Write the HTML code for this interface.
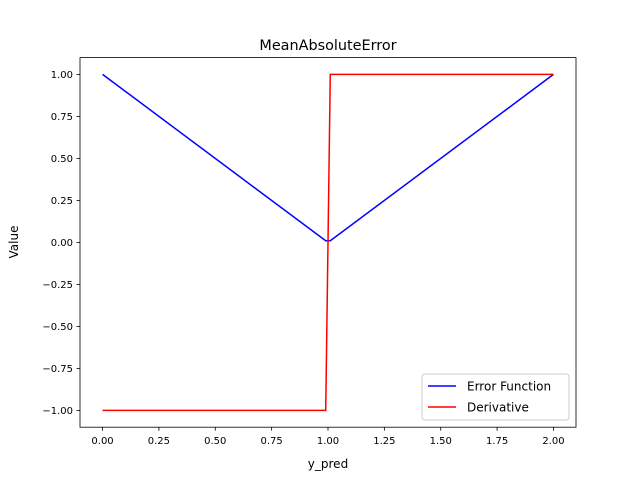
<!DOCTYPE html>
<html><head><meta charset="utf-8"><style>
body{margin:0;background:#fff;}
svg{font-family:"DejaVu Sans","Liberation Sans",sans-serif;}
</style></head><body>
<svg id="chart" width="640" height="480" viewBox="0 0 640 480">
<rect width="640" height="480" fill="#fff"/>
<text x="328" y="50" font-size="14.4" text-anchor="middle">MeanAbsoluteError</text>
<g id="plot"></g>
<rect x="80" y="57.6" width="496" height="369.6" fill="none" stroke="#000" stroke-width="0.8"/>
<text x="328" y="468" font-size="12" text-anchor="middle">y_pred</text>
<text transform="translate(18,242) rotate(-90)" font-size="12" text-anchor="middle">Value</text>
<g>
<rect x="422" y="374" width="147" height="46" rx="3" fill="#fff" fill-opacity="0.8" stroke="#ccc" stroke-width="1"/>
<line x1="428" y1="386" x2="456" y2="386" stroke="#0000ff" stroke-width="1.5"/>
<text x="467" y="390.5" font-size="12">Error Function</text>
<line x1="428" y1="407" x2="456" y2="407" stroke="#ff0000" stroke-width="1.5"/>
<text x="467" y="411.5" font-size="12">Derivative</text>
</g>
</svg>
<script>
const xValues = [0, 0.9899, 1.0101, 2];
const errorValues = [1, 0.0101, 0.0101, 1];
const derivValues = [-1, -1, 1, 1];
const xTicks = [0, 0.25, 0.5, 0.75, 1.0, 1.25, 1.5, 1.75, 2.0];
const xTickLabels = ["0.00","0.25","0.50","0.75","1.00","1.25","1.50","1.75","2.00"];
const yTicks = [-1, -0.75, -0.5, -0.25, 0, 0.25, 0.5, 0.75, 1];
const yTickLabels = ["−1.00","−0.75","−0.50","−0.25","0.00","0.25","0.50","0.75","1.00"];

const L=80,R=576,T=57.6,B=427.2;
function sx(v){return L+(v+0.1)/2.2*(R-L);}
function sy(v){return B-(v+1.1)/2.2*(B-T);}
const NS="http://www.w3.org/2000/svg";
const g=document.getElementById('plot');
function mk(tag,attrs){const e=document.createElementNS(NS,tag);for(const k in attrs)e.setAttribute(k,attrs[k]);g.appendChild(e);return e;}
xTicks.forEach((t,i)=>{
  const l=mk('line',{x1:sx(t),x2:sx(t),y1:B,y2:B+3.5,stroke:'#000','stroke-width':0.8});
  
  
  const tx=mk('text',{x:sx(t),y:B+17,'font-size':10,'text-anchor':'middle'});
  tx.textContent=xTickLabels[i];
  
  
});
yTicks.forEach((t,i)=>{
  const l=mk('line',{x1:L-3.5,x2:L,y1:sy(t),y2:sy(t),stroke:'#000','stroke-width':0.8});
  
  
  const tx=mk('text',{x:L-7,y:sy(t)+3.5,'font-size':10,'text-anchor':'end'});
  tx.textContent=yTickLabels[i];
  
  
});
function pts(ys){return xValues.map((x,i)=>sx(x)+','+sy(ys[i])).join(' ');}
const e1=mk('polyline',{points:pts(errorValues),fill:'none',stroke:'#0000ff','stroke-width':1.5});


const e2=mk('polyline',{points:pts(derivValues),fill:'none',stroke:'#ff0000','stroke-width':1.5});


</script>
</body></html>
